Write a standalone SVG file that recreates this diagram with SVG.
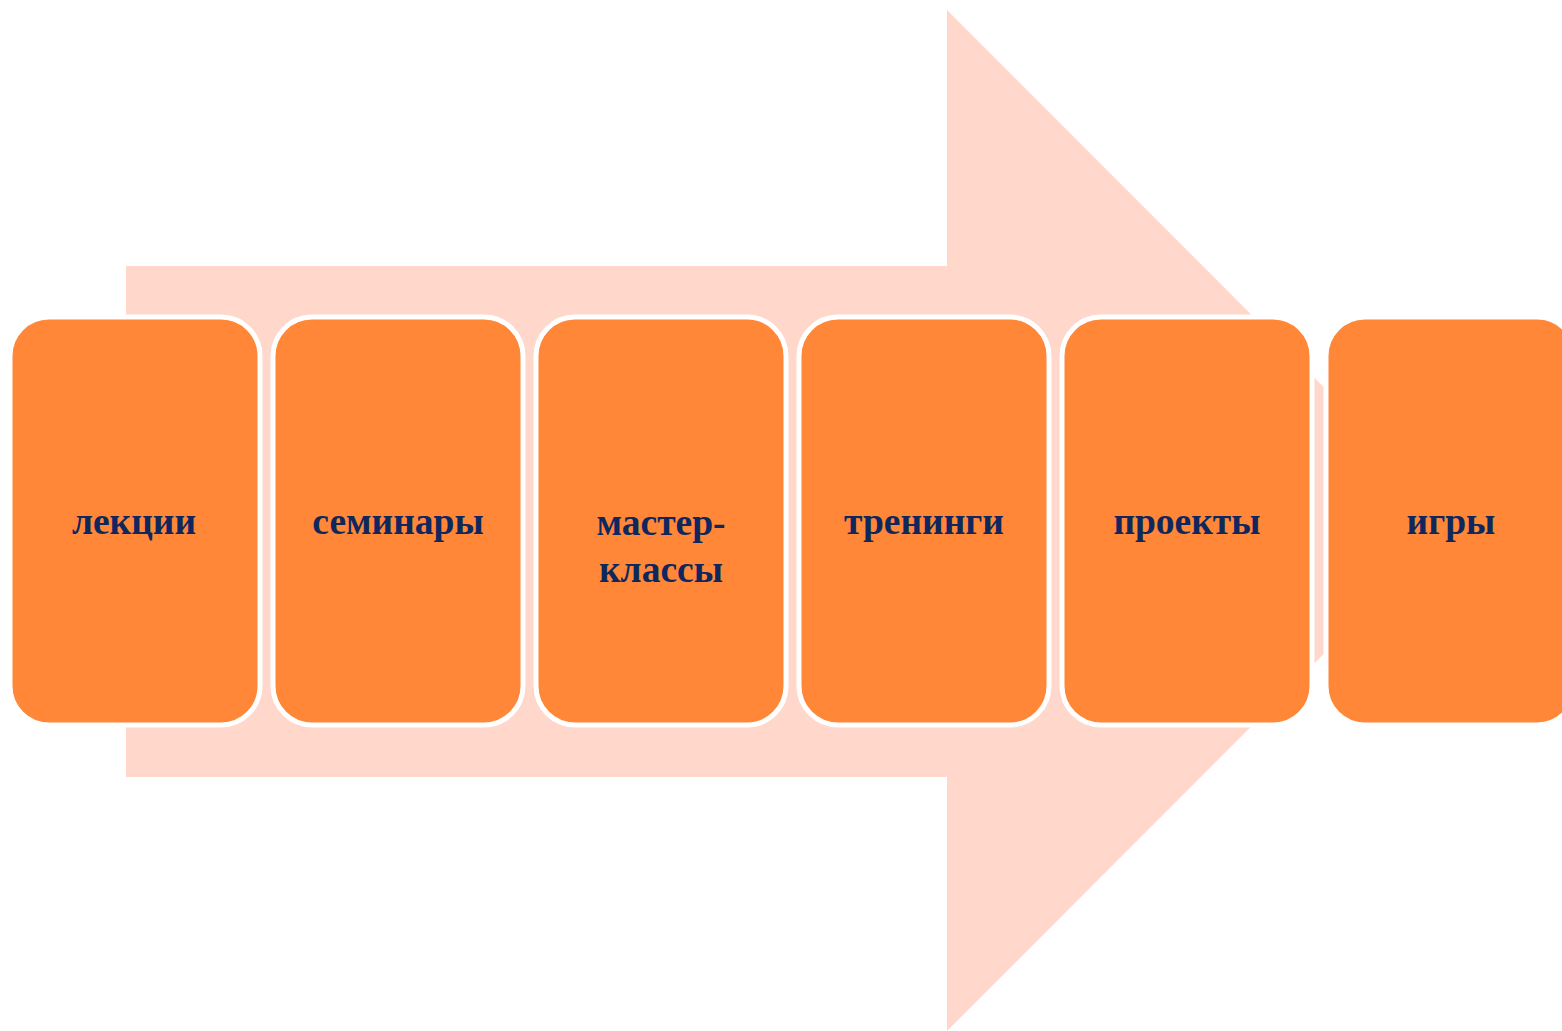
<svg xmlns="http://www.w3.org/2000/svg" width="1562" height="1031" viewBox="0 0 1562 1031">
<style>
.box{fill:#FF8737;stroke:#FFFFFF;stroke-width:5}
.lbl{font-family:"Liberation Serif","Times New Roman",serif;font-weight:bold;font-size:37.5px;fill:#10275E;text-anchor:middle}
</style>
<rect width="1562" height="1031" fill="#FFFFFF"/>
<g id="arrow">
<polygon points="126,266 947,266 947,10 1457,520.5 947,1031 947,777 126,777" fill="#FFD8CB"/>
</g>
<g id="connectors"></g>
<g id="n1"><rect class="box" x="10" y="317" width="250" height="408" rx="39"/><text class="lbl" x="134" y="534">лекции</text></g>
<g id="n2"><rect class="box" x="273" y="317" width="250" height="408" rx="39"/><text class="lbl" x="398" y="534">семинары</text></g>
<g id="n3"><rect class="box" x="536" y="317" width="250" height="408" rx="39"/><text class="lbl" x="661" y="535">мастер-</text><text class="lbl" x="661" y="582">классы</text></g>
<g id="n4"><rect class="box" x="799" y="317" width="250" height="408" rx="39"/><text class="lbl" x="924" y="534">тренинги</text></g>
<g id="n5"><rect class="box" x="1062" y="317" width="250" height="408" rx="39"/><text class="lbl" x="1187" y="534">проекты</text></g>
<g id="n6"><rect class="box" x="1326" y="317" width="250" height="408" rx="39"/><text class="lbl" x="1451" y="534">игры</text></g>
</svg>
